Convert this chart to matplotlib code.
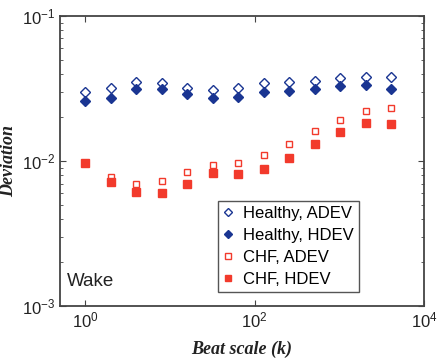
import matplotlib.pyplot as plt
import numpy as np

# beat scales 2^0 .. 2^12
scale = [1, 2, 4, 8, 16, 32, 64, 128, 256, 512, 1024, 2048, 4096]

healthy_adev = [0.0301, 0.0317, 0.0351, 0.0343, 0.0319, 0.0309, 0.0319,
                0.0343, 0.0349, 0.0356, 0.0372, 0.0378, 0.0381]
healthy_hdev = [0.0261, 0.0271, 0.0312, 0.0312, 0.0290, 0.0273, 0.0275,
                0.0301, 0.0305, 0.0312, 0.0329, 0.0334, 0.0314]
chf_adev = [0.00964, 0.00772, 0.00697, 0.00724, 0.00836, 0.00934, 0.00964,
            0.01095, 0.0132, 0.0162, 0.0192, 0.0221, 0.0231]
chf_hdev = [0.0097, 0.00720, 0.00611, 0.00605, 0.00697, 0.00830, 0.00817,
            0.00885, 0.01044, 0.0132, 0.0158, 0.0184, 0.0180]

blue = "#1a3592"
red = "#f23a2c"

plt.rcParams["font.family"] = ["Liberation Sans", "DejaVu Sans"]

fig = plt.figure(figsize=(4.4, 3.64), dpi=100)
ax = fig.add_axes([0.136, 0.159, 0.828, 0.797])

ax.plot(scale, healthy_adev, linestyle="none", marker="D", ms=5.5,
        mfc="white", mec=blue, mew=1.0, label="Healthy, ADEV")
ax.plot(scale, healthy_hdev, linestyle="none", marker="D", ms=5.5,
        mfc=blue, mec=blue, mew=1.0, label="Healthy, HDEV")
ax.plot(scale, chf_adev, linestyle="none", marker="s", ms=5,
        mfc="white", mec=red, mew=1.0, label="CHF, ADEV")
ax.plot(scale, chf_hdev, linestyle="none", marker="s", ms=5.5,
        mfc=red, mec=red, mew=1.0, label="CHF, HDEV")

ax.set_xscale("log")
ax.set_yscale("log")
ax.set_xlim(0.5, 1e4)
ax.set_ylim(1e-3, 1e-1)
ax.set_xticks([1, 100, 10000])
ax.xaxis.set_minor_locator(plt.NullLocator())

for s in ax.spines.values():
    s.set_color("#444444")
    s.set_linewidth(1.3)
ax.tick_params(which="both", direction="in", top=True, right=True,
               colors="#444444", labelcolor="#222222", labelsize=12)
ax.tick_params(which="major", length=4)
ax.tick_params(which="minor", length=2.5)

ax.set_xlabel("Beat scale (k)", family="Liberation Serif", weight="bold",
              style="italic", fontsize=13, color="#222222", labelpad=7)
ax.set_ylabel("Deviation", family="Liberation Serif", weight="bold",
              style="italic", fontsize=13, color="#222222")
ax.yaxis.set_label_coords(-0.118, 0.5)

ax.text(0.02, 0.069, "Wake", transform=ax.transAxes, fontsize=13.5,
        color="#222222")

leg = ax.legend(loc="lower right", bbox_to_anchor=(0.82, 0.048),
                borderaxespad=0, fontsize=12, handlelength=0.6,
                handletextpad=0.6, borderpad=0.3, labelspacing=0.42,
                fancybox=False, framealpha=1, edgecolor="#555555",
                markerscale=0.8)
leg.get_frame().set_linewidth(1.0)

fig.savefig("out.png", dpi=100)
